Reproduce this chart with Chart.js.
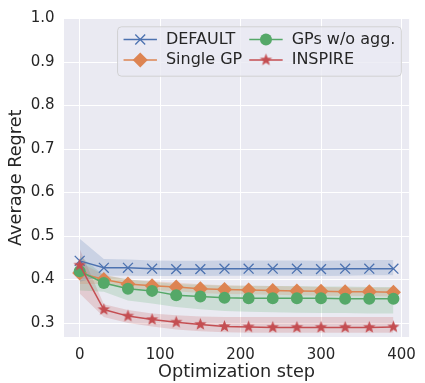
<!DOCTYPE html>
<html>
<head>
<meta charset="utf-8">
<script src="https://cdn.jsdelivr.net/npm/chart.js@4.4.0/dist/chart.umd.min.js"></script>
<style>
  html, body { margin: 0; padding: 0; background: #fff; }
  #wrap { width: 425px; height: 383px; }
</style>
</head>
<body>
<div id="wrap"><canvas id="regretChart" width="425" height="383"></canvas></div>
<script>
// average regret over optimisation steps, mean and spread per method

const STEPS = [0, 30, 60, 90, 120, 150, 180, 210, 240, 270, 300, 330, 360, 390];
const X_TICKS = [0, 100, 200, 300, 400];
const Y_TICKS = [0.3, 0.4, 0.5, 0.6, 0.7, 0.8, 0.9, 1.0];

const DEFAULT_MEAN = [0.443, 0.427, 0.427, 0.425, 0.424, 0.424, 0.425, 0.425, 0.425, 0.425, 0.424, 0.425, 0.425, 0.425];
const DEFAULT_LO   = [0.395, 0.409, 0.409, 0.408, 0.408, 0.408, 0.409, 0.409, 0.409, 0.409, 0.408, 0.409, 0.410, 0.410];
const DEFAULT_HI   = [0.494, 0.447, 0.446, 0.444, 0.443, 0.443, 0.444, 0.444, 0.444, 0.444, 0.443, 0.444, 0.445, 0.445];

const SINGLE_MEAN = [0.415, 0.400, 0.390, 0.386, 0.383, 0.379, 0.377, 0.376, 0.375, 0.374, 0.373, 0.372, 0.372, 0.371];
const SINGLE_LO   = [0.390, 0.390, 0.380, 0.376, 0.373, 0.369, 0.367, 0.366, 0.365, 0.364, 0.363, 0.362, 0.362, 0.361];
const SINGLE_HI   = [0.440, 0.411, 0.400, 0.396, 0.393, 0.389, 0.387, 0.386, 0.385, 0.384, 0.383, 0.382, 0.382, 0.381];

const NOAGG_MEAN = [0.419, 0.392, 0.379, 0.374, 0.364, 0.361, 0.358, 0.357, 0.357, 0.357, 0.357, 0.356, 0.356, 0.356];
const NOAGG_LO   = [0.375, 0.372, 0.352, 0.345, 0.337, 0.332, 0.328, 0.326, 0.325, 0.324, 0.323, 0.323, 0.322, 0.322];
const NOAGG_HI   = [0.455, 0.410, 0.400, 0.395, 0.390, 0.388, 0.386, 0.386, 0.385, 0.385, 0.384, 0.384, 0.383, 0.383];

const INSPIRE_MEAN = [0.433, 0.331, 0.316, 0.308, 0.302, 0.297, 0.292, 0.291, 0.290, 0.290, 0.290, 0.290, 0.290, 0.291];
const INSPIRE_LO   = [0.368, 0.314, 0.300, 0.292, 0.285, 0.281, 0.279, 0.278, 0.278, 0.278, 0.278, 0.278, 0.278, 0.278];
const INSPIRE_HI   = [0.470, 0.343, 0.330, 0.322, 0.318, 0.315, 0.314, 0.314, 0.314, 0.314, 0.314, 0.314, 0.314, 0.314];

const FONT = '"DejaVu Sans", sans-serif';
const TEXT = '#262626';

function makeStar(color, r) {
  const size = Math.ceil(r * 2 + 2);
  const c = document.createElement('canvas');
  c.width = c.height = size;
  const g = c.getContext('2d');
  g.beginPath();
  for (let i = 0; i < 10; i++) {
    const rad = i % 2 ? r * 0.42 : r;
    const a = -Math.PI / 2 + i * Math.PI / 5;
    g.lineTo(size / 2 + rad * Math.cos(a), size / 2 + rad * Math.sin(a));
  }
  g.closePath();
  g.fillStyle = color;
  g.fill();
  return c;
}

const SERIES = [
  { label: 'DEFAULT',      color: '#4C72B0', mean: DEFAULT_MEAN, lo: DEFAULT_LO, hi: DEFAULT_HI, style: 'crossRot', radius: 7, border: 1.3, order: 3 },
  { label: 'Single GP',    color: '#DD8452', mean: SINGLE_MEAN,  lo: SINGLE_LO,  hi: SINGLE_HI,  style: 'rectRot',  radius: 7.5, border: 0, order: 2 },
  { label: 'GPs w/o agg.', color: '#55A868', mean: NOAGG_MEAN,   lo: NOAGG_LO,   hi: NOAGG_HI,   style: 'circle',   radius: 6, border: 0, order: 1 },
  { label: 'INSPIRE',      color: '#C44E52', mean: INSPIRE_MEAN, lo: INSPIRE_LO, hi: INSPIRE_HI, style: null,       radius: 6.5, border: 0, order: 0 }
];
SERIES[3].style = makeStar(SERIES[3].color, 6.5);

// legend order in the box: column by column
const LEGEND_COLS = [[0, 1], [2, 3]];

function rgba(hex, a) {
  const n = parseInt(hex.slice(1), 16);
  return `rgba(${n >> 16},${(n >> 8) & 255},${n & 255},${a})`;
}

function pts(ys) {
  return STEPS.map((x, i) => ({ x, y: ys[i] }));
}

const datasets = [];
SERIES.forEach(s => {
  datasets.push({
    label: s.label + ' lo', data: pts(s.lo), borderWidth: 0, pointRadius: 0,
    fill: false, order: 10
  });
  datasets.push({
    label: s.label + ' hi', data: pts(s.hi), borderWidth: 0, pointRadius: 0,
    fill: '-1', backgroundColor: rgba(s.color, 0.2), order: 10
  });
});
SERIES.forEach(s => {
  datasets.push({
    label: s.label, data: pts(s.mean), borderColor: s.color, borderWidth: 1.5,
    pointStyle: s.style, pointRadius: s.radius, pointBackgroundColor: s.color,
    pointBorderColor: s.color, pointBorderWidth: s.border, fill: false, order: s.order
  });
});

const plotBg = {
  id: 'plotBg',
  beforeDraw(chart) {
    const { ctx, chartArea: a } = chart;
    ctx.save();
    ctx.fillStyle = '#EAEAF2';
    ctx.fillRect(a.left, a.top, a.right - a.left, a.bottom - a.top);
    ctx.restore();
  }
};

const boxLegend = {
  id: 'boxLegend',
  afterDraw(chart) {
    const { ctx, chartArea: a } = chart;
    const pad = 6, handle = 33.4, gap = 9, colGap = 7, rowH = 20.5;
    ctx.save();
    ctx.font = `16px ${FONT}`;
    const colW = LEGEND_COLS.map(col => Math.max(...col.map(i => ctx.measureText(SERIES[i].label).width)));
    const w = pad * 2 + colW.reduce((t, v) => t + v + handle + gap, 0) + colGap;
    const h = 49.4;
    const right = a.right - 7.7, top = a.top + 8.3;
    const left = right - w;
    ctx.beginPath();
    ctx.roundRect(left, top, w, h, 4);
    ctx.fillStyle = 'rgba(234,234,242,0.8)';
    ctx.fill();
    ctx.strokeStyle = 'rgba(204,204,204,0.8)';
    ctx.lineWidth = 1;
    ctx.stroke();

    let x = left + pad;
    LEGEND_COLS.forEach((col, c) => {
      col.forEach((i, r) => {
        const s = SERIES[i];
        const y = top + 12.7 + r * rowH;
        ctx.strokeStyle = s.color;
        ctx.lineWidth = 1.5;
        ctx.beginPath();
        ctx.moveTo(x, y);
        ctx.lineTo(x + handle, y);
        ctx.stroke();
        ctx.fillStyle = s.color;
        ctx.lineWidth = s.border;
        Chart.helpers.drawPoint(ctx, { pointStyle: s.style, radius: s.radius, rotation: 0, borderWidth: s.border }, x + handle / 2, y);
        ctx.fillStyle = TEXT;
        ctx.textBaseline = 'middle';
        ctx.textAlign = 'left';
        ctx.fillText(s.label, x + handle + gap, y);
      });
      x += handle + gap + colW[c] + colGap;
    });
    ctx.restore();
  }
};

new Chart(document.getElementById('regretChart'), {
  type: 'line',
  data: { datasets },
  plugins: [plotBg, boxLegend],
  options: {
    responsive: false,
    animation: false,
    layout: { padding: { left: 0, right: 10, top: 15, bottom: 0 } },
    plugins: {
      legend: { display: false },
      tooltip: { enabled: false },
      filler: { propagate: false }
    },
    scales: {
      x: {
        type: 'linear',
        min: -19.5,
        max: 409.5,
        afterBuildTicks: axis => { axis.ticks = X_TICKS.map(v => ({ value: v })); },
        afterFit: axis => { axis.height = 46; },
        border: { display: false },
        grid: { color: '#ffffff', lineWidth: 1, drawTicks: false },
        ticks: { color: TEXT, font: { family: FONT, size: 15 }, padding: 9, maxRotation: 0 },
        title: { display: true, text: 'Optimization step', color: TEXT, font: { family: FONT, size: 17.7 }, padding: { top: 0, bottom: 0 } }
      },
      y: {
        type: 'linear',
        min: 0.268,
        max: 1.0,
        afterBuildTicks: axis => { axis.ticks = Y_TICKS.map(v => ({ value: v })); },
        afterFit: axis => { axis.width = 64; },
        border: { display: false },
        grid: { color: '#ffffff', lineWidth: 1, drawTicks: false },
        ticks: { color: TEXT, font: { family: FONT, size: 15 }, padding: 9.5, callback: v => v.toFixed(1) },
        title: { display: true, text: 'Average Regret', color: TEXT, font: { family: FONT, size: 17.7 }, padding: { top: 5.5, bottom: 0 } }
      }
    }
  }
});
</script>
</body>
</html>
